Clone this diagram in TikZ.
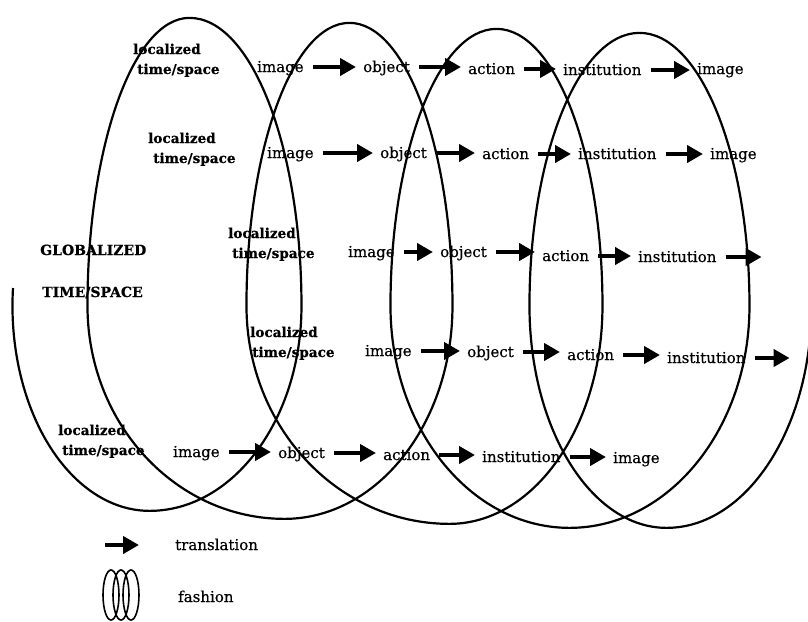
\documentclass[tikz,border=0pt]{standalone}
\usepackage{fontspec}
\setmainfont{DejaVu Serif}
\newfontfamily\wordfam{DejaVu Serif}[FakeBold = 0.5]
\newfontfamily\locfam{DejaVu Serif Bold}[FakeBold = 0.7]
\usetikzlibrary{arrows.meta}

\newcommand\wordfont{\wordfam\fontsize{15}{17}\selectfont}
\newcommand\locfont{\locfam\fontsize{13.6}{20}\selectfont}
\newcommand\globfont{\locfam\fontsize{14}{20}\selectfont}

\begin{document}
\begin{tikzpicture}[x=1pt, y=1pt, yscale=-1,
		coil/.style = {line width = 2.2pt},
		word/.style = {anchor = base west, inner sep = 0pt, font = \wordfont, text height = 11pt, text depth = 1pt},
		loc/.style = {anchor = base west, inner sep = 0pt, font = \locfont},
		glob/.style = {anchor = base west, inner sep = 0pt, font = \globfont},
		transl/.style = {line width = 4.5pt, -{Triangle[length = 16pt, width = 17pt]}, shorten <= 9pt, shorten >= 7pt}]
		\clip (0, 0) rectangle (808, 621);
		
		% the coil
		\draw[coil] (13, 288)
			arc[start angle = 185, end angle = 90, x radius = 137pt, y radius = 205pt]
			arc[start angle = 90, end angle = 0, x radius = 152pt, y radius = 205pt]
			arc[start angle = 0, end angle = -90, x radius = 112pt, y radius = 288pt]
			arc[start angle = -90, end angle = -180, x radius = 102pt, y radius = 288pt]
			arc[start angle = 180, end angle = 90, x radius = 197pt, y radius = 213pt]
			arc[start angle = 90, end angle = 0, x radius = 168pt, y radius = 213pt]
			arc[start angle = 0, end angle = -90, x radius = 103pt, y radius = 283pt]
			arc[start angle = -90, end angle = -180, x radius = 103pt, y radius = 283pt]
			arc[start angle = 180, end angle = 90, x radius = 203pt, y radius = 218pt]
			arc[start angle = 90, end angle = 0, x radius = 153pt, y radius = 218pt]
			arc[start angle = 0, end angle = -90, x radius = 106pt, y radius = 277pt]
			arc[start angle = -90, end angle = -180, x radius = 106pt, y radius = 277pt]
			arc[start angle = 180, end angle = 90, x radius = 179pt, y radius = 222pt]
			arc[start angle = 90, end angle = 0, x radius = 180pt, y radius = 222pt]
			arc[start angle = 0, end angle = -90, x radius = 110pt, y radius = 273pt]
			arc[start angle = -90, end angle = -180, x radius = 110pt, y radius = 273pt]
			arc[start angle = 180, end angle = 90, x radius = 137pt, y radius = 222pt]
			arc[start angle = 90, end angle = 0, x radius = 145pt, y radius = 222pt];
		
		\node[glob] (glob) at (40, 255) {GLOBALIZED};
		\node[glob] (globts) at (42, 297) {TIME/SPACE};
		
		% row 1
		\node[loc] (loc1) at (133, 54) {localized};
		\node[loc] (ts1) at (137, 74) {time/space};
		\node[word] (im1) at (257, 72) {image};
		\node[word] (ob1) at (363, 72) {object};
		\node[word] (ac1) at (468, 74) {action};
		\node[word] (in1) at (563, 75) {institution};
		\node[word] (imb1) at (697, 74) {image};
		\draw[transl] (im1) -- (im1 -| ob1.west);
		\draw[transl] (ob1) -- (ob1 -| ac1.west);
		\draw[transl] (ac1) -- (ac1 -| in1.west);
		\draw[transl] (in1) -- (in1 -| imb1.west);
		
		% row 2
		\node[loc] (loc2) at (148, 143) {localized};
		\node[loc] (ts2) at (153, 163) {time/space};
		\node[word] (im2) at (267, 158) {image};
		\node[word] (ob2) at (380, 158) {object};
		\node[word] (ac2) at (482, 159) {action};
		\node[word] (in2) at (578, 159) {institution};
		\node[word] (imb2) at (710, 159) {image};
		\draw[transl] (im2) -- (im2 -| ob2.west);
		\draw[transl] (ob2) -- (ob2 -| ac2.west);
		\draw[transl] (ac2) -- (ac2 -| in2.west);
		\draw[transl] (in2) -- (in2 -| imb2.west);
		
		% row 3
		\node[loc] (loc3) at (228, 238) {localized};
		\node[loc] (ts3) at (232, 258) {time/space};
		\node[word] (im3) at (348, 257) {image};
		\node[word] (ob3) at (440, 257) {object};
		\node[word] (ac3) at (542, 261) {action};
		\node[word] (in3) at (638, 262) {institution};
		\coordinate (end3) at ([xshift = 52pt]in3.east);
		\draw[transl] (im3) -- (im3 -| ob3.west);
		\draw[transl] (ob3) -- (ob3 -| ac3.west);
		\draw[transl] (ac3) -- (ac3 -| in3.west);
		\draw[transl] (in3) -- (end3);
		
		% row 4
		\node[loc] (loc4) at (250, 337) {localized};
		\node[loc] (ts4) at (252, 357) {time/space};
		\node[word] (im4) at (365, 356) {image};
		\node[word] (ob4) at (467, 357) {object};
		\node[word] (ac4) at (567, 360) {action};
		\node[word] (in4) at (667, 363) {institution};
		\coordinate (end4) at ([xshift = 51pt]in4.east);
		\draw[transl] (im4) -- (im4 -| ob4.west);
		\draw[transl] (ob4) -- (ob4 -| ac4.west);
		\draw[transl] (ac4) -- (ac4 -| in4.west);
		\draw[transl] (in4) -- (end4);
		
		% row 5
		\node[loc] (loc5) at (58, 435) {localized};
		\node[loc] (ts5) at (62, 455) {time/space};
		\node[word] (im5) at (173, 457) {image};
		\node[word] (ob5) at (278, 458) {object};
		\node[word] (ac5) at (383, 460) {action};
		\node[word] (in5) at (482, 462) {institution};
		\node[word] (imb5) at (613, 463) {image};
		\draw[transl] (im5) -- (im5 -| ob5.west);
		\draw[transl] (ob5) -- (ob5 -| ac5.west);
		\draw[transl] (ac5) -- (ac5 -| in5.west);
		\draw[transl] (in5) -- (in5 -| imb5.west);
		
		% legend
		\coordinate (lga) at (96, 545);
		\coordinate (lgb) at (146, 545);
		\draw[transl] (lga) -- (lgb);
		\node[word] (lgtr) at (175, 550) {translation};
		\foreach \x in {111, 121, 131}
		\draw[line width = 1.6pt] (\x, 595) ellipse [x radius = 8pt, y radius = 25pt];
		\node[word] (lgfa) at (178, 602) {fashion};
	\end{tikzpicture}
\end{document}
